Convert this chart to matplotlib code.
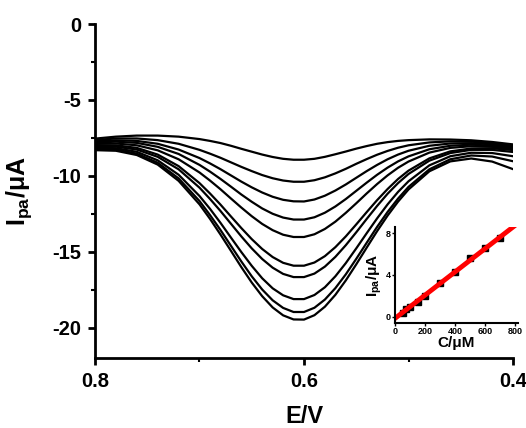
import numpy as np
import matplotlib
matplotlib.use('Agg')
import matplotlib.pyplot as plt
from matplotlib.ticker import MultipleLocator

#potential (V), denser around the peak
potential = [0.80, 0.78, 0.76, 0.74, 0.72, 0.70, 0.69, 0.68, 0.67, 0.66, 0.65, 0.64, 0.63, 0.62, 0.61, 0.60,
             0.59, 0.58, 0.57, 0.56, 0.55, 0.54, 0.53, 0.52, 0.51, 0.50, 0.48, 0.46, 0.44, 0.42, 0.40]

#DPV currents (uA), lowest to highest concentration
curve_1 = [-7.55, -7.42, -7.35, -7.35, -7.42, -7.58, -7.70, -7.84, -8.02, -8.22, -8.41, -8.60, -8.76, -8.88, -8.94, -8.94,
           -8.88, -8.75, -8.58, -8.40, -8.21, -8.04, -7.89, -7.78, -7.70, -7.65, -7.60, -7.61, -7.66, -7.77, -7.93]
curve_2 = [-7.64, -7.54, -7.54, -7.65, -7.89, -8.29, -8.54, -8.81, -9.11, -9.41, -9.69, -9.95, -10.16, -10.31, -10.39, -10.39,
           -10.29, -10.10, -9.84, -9.54, -9.21, -8.90, -8.61, -8.36, -8.15, -7.99, -7.80, -7.73, -7.75, -7.85, -8.00]
curve_3 = [-7.73, -7.66, -7.70, -7.89, -8.27, -8.83, -9.18, -9.56, -9.97, -10.38, -10.76, -11.10, -11.38, -11.58, -11.68, -11.69,
           -11.56, -11.31, -10.97, -10.57, -10.13, -9.69, -9.28, -8.91, -8.60, -8.35, -8.02, -7.87, -7.85, -7.92, -8.07]
curve_4 = [-7.81, -7.75, -7.83, -8.09, -8.56, -9.28, -9.72, -10.20, -10.71, -11.23, -11.71, -12.15, -12.50, -12.75, -12.88, -12.88,
           -12.73, -12.43, -12.02, -11.53, -10.99, -10.45, -9.93, -9.46, -9.05, -8.72, -8.25, -8.02, -7.95, -8.01, -8.15]
curve_5 = [-7.90, -7.87, -7.99, -8.32, -8.91, -9.78, -10.31, -10.88, -11.49, -12.09, -12.66, -13.17, -13.58, -13.88, -14.03, -14.03,
           -13.85, -13.50, -13.02, -12.44, -11.81, -11.16, -10.54, -9.97, -9.47, -9.06, -8.47, -8.16, -8.05, -8.09, -8.22]
curve_6 = [-7.99, -7.99, -8.16, -8.60, -9.36, -10.48, -11.16, -11.89, -12.67, -13.44, -14.17, -14.82, -15.35, -15.73, -15.92, -15.92,
           -15.71, -15.29, -14.70, -13.99, -13.20, -12.39, -11.60, -10.87, -10.21, -9.66, -8.85, -8.39, -8.20, -8.19, -8.30]
curve_7 = [-8.07, -8.08, -8.27, -8.75, -9.57, -10.78, -11.52, -12.31, -13.15, -13.99, -14.78, -15.48, -16.05, -16.46, -16.67, -16.67,
           -16.44, -15.98, -15.34, -14.57, -13.72, -12.84, -11.98, -11.18, -10.48, -9.88, -9.00, -8.50, -8.29, -8.29, -8.43]
curve_8 = [-8.15, -8.18, -8.42, -8.98, -9.93, -11.33, -12.17, -13.09, -14.06, -15.02, -15.93, -16.75, -17.41, -17.87, -18.12, -18.12,
           -17.85, -17.34, -16.62, -15.75, -14.78, -13.78, -12.80, -11.88, -11.06, -10.36, -9.31, -8.71, -8.48, -8.50, -8.71]
curve_9 = [-8.23, -8.27, -8.54, -9.14, -10.17, -11.66, -12.58, -13.56, -14.60, -15.64, -16.62, -17.49, -18.20, -18.70, -18.97, -18.97,
           -18.69, -18.15, -17.40, -16.49, -15.47, -14.41, -13.36, -12.38, -11.50, -10.73, -9.57, -8.91, -8.66, -8.73, -9.04]
curve_10 = [-8.31, -8.35, -8.63, -9.26, -10.33, -11.88, -12.83, -13.86, -14.93, -16.01, -17.03, -17.93, -18.67, -19.19, -19.46, -19.47,
            -19.18, -18.62, -17.84, -16.89, -15.83, -14.73, -13.64, -12.62, -11.70, -10.90, -9.70, -9.05, -8.86, -9.06, -9.56]
curves = [curve_1, curve_2, curve_3, curve_4, curve_5, curve_6, curve_7, curve_8, curve_9, curve_10]

#calibration inset
conc = [50, 70, 100, 150, 200, 300, 400, 500, 600, 700]
ipa = [0.4, 0.7, 0.95, 1.45, 1.95, 3.2, 4.3, 5.6, 6.55, 7.5]

plt.rcParams['font.family'] = ['Liberation Sans', 'DejaVu Sans']
plt.rcParams['font.weight'] = 'bold'
plt.rcParams['axes.unicode_minus'] = False
plt.rcParams['mathtext.fontset'] = 'custom'
plt.rcParams['mathtext.rm'] = 'Liberation Sans:bold'
plt.rcParams['mathtext.bf'] = 'Liberation Sans:bold'
plt.rcParams['mathtext.it'] = 'Liberation Sans:bold'

fig = plt.figure(figsize=(5.26, 4.28), dpi=100)
ax = fig.add_axes([95/526, 70/428, 418/526, 334/428])
for y in curves:
    ax.plot(potential, y, color='black', lw=1.6)
ax.set_xlim(0.8, 0.4)
ax.set_ylim(-22, 0)
ax.set_xticks([0.8, 0.6, 0.4])
ax.set_xticklabels(['0.8', '0.6', '0.4'])
ax.xaxis.set_minor_locator(MultipleLocator(0.1))
ax.set_yticks([0, -5, -10, -15, -20])
ax.yaxis.set_minor_locator(MultipleLocator(2.5))
for sp in ['top', 'right']:
    ax.spines[sp].set_visible(False)
for sp in ['left', 'bottom']:
    ax.spines[sp].set_linewidth(2)
ax.tick_params(which='major', direction='out', length=5, width=2, labelsize=14.5, pad=5)
ax.tick_params(which='minor', direction='out', length=3, width=1.5)
ax.set_xlabel('E/V', fontsize=17, fontweight='bold', labelpad=10)
ax.set_ylabel(r'I$_{\mathrm{pa}}$/μA', fontsize=18, fontweight='bold', labelpad=13)

#inset: peak current vs concentration
ins = fig.add_axes([395/526, 105/428, 123/526, 96/428])
ins.plot(conc, ipa, 's', color='black', ms=4)
fit = np.polyfit(conc, ipa, 1)
cx = np.array([0, 790])
ins.plot(cx, np.polyval(fit, cx), color='red', lw=3.5)
ins.set_xlim(0, 820)
ins.set_ylim(-0.6, 8.6)
ins.set_xticks([0, 200, 400, 600, 800])
ins.set_yticks([0, 4, 8])
for sp in ['top', 'right']:
    ins.spines[sp].set_visible(False)
for sp in ['left', 'bottom']:
    ins.spines[sp].set_linewidth(1.5)
ins.tick_params(direction='out', length=2, width=1, labelsize=6.5, pad=1)
ins.set_xlabel('C/μM', fontsize=11, fontweight='bold', labelpad=0)
ins.set_ylabel(r'I$_{\mathrm{pa}}$/μA', fontsize=11, fontweight='bold', labelpad=1)

fig.savefig('out.png', dpi=100)
